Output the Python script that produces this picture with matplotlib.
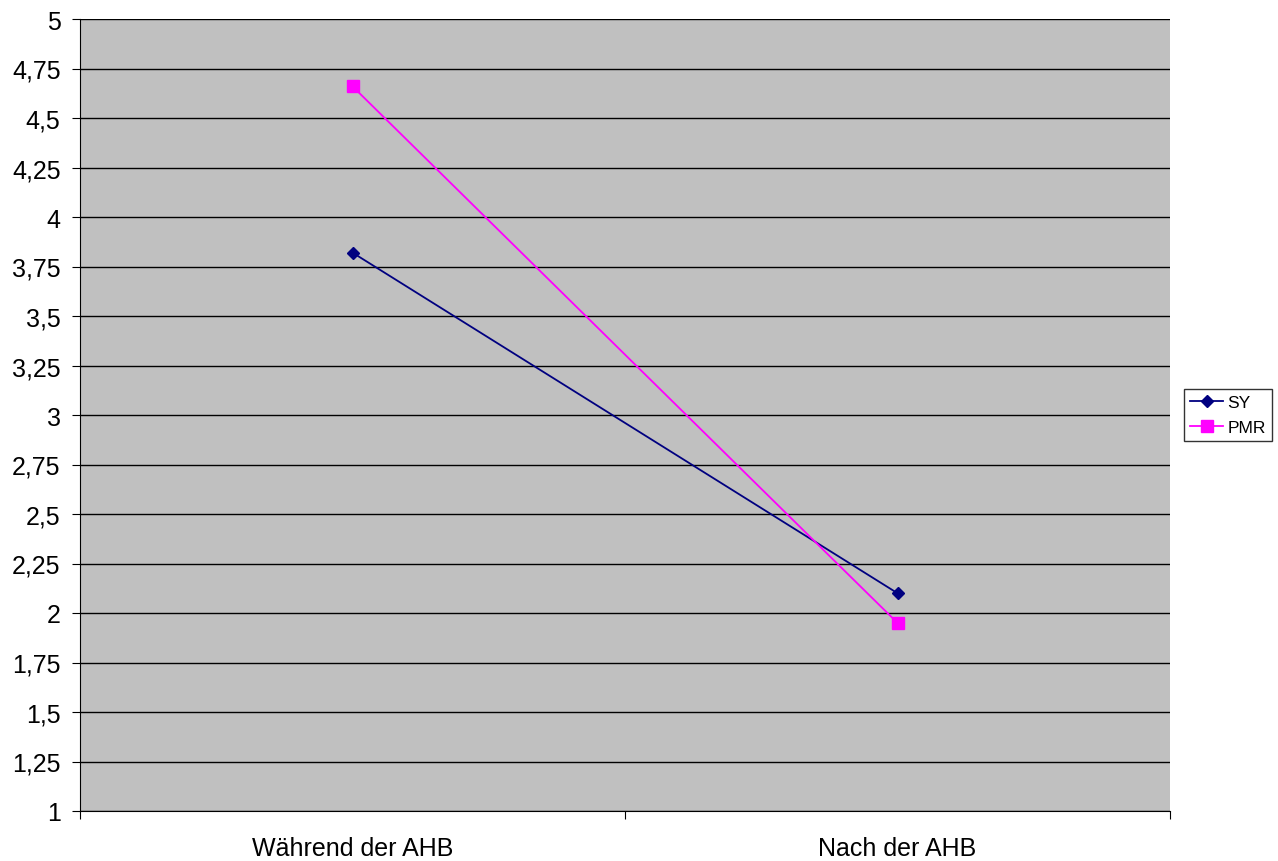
import matplotlib.pyplot as plt
from matplotlib.ticker import FixedLocator, FuncFormatter

plt.rcParams['font.family'] = ['Liberation Sans', 'DejaVu Sans']

categories = ["Während der AHB", "Nach der AHB"]
sy = [3.82, 2.10]
pmr = [4.66, 1.95]
yticks = [1, 1.25, 1.5, 1.75, 2, 2.25, 2.5, 2.75, 3, 3.25, 3.5, 3.75, 4, 4.25, 4.5, 4.75, 5]

fig = plt.figure(figsize=(12.78, 8.62), dpi=100)
ax = fig.add_axes([80 / 1278, 50 / 862, 1090 / 1278, 792 / 862])
ax.set_facecolor("#c0c0c0")

x = [0.5, 1.5]
ax.plot(x, sy, color="#000080", marker="D", markersize=6, lw=1.3, label="SY")
ax.plot(x, pmr, color="#ff00ff", marker="s", markersize=8, lw=1.3, label="PMR")

ax.set_xlim(0, 2)
ax.set_ylim(1, 5)
ax.yaxis.set_major_locator(FixedLocator(yticks))
ax.yaxis.set_major_formatter(FuncFormatter(lambda v, p: f"{v:g}".replace(".", ",")))
ax.grid(axis="y", color="black", lw=1)
ax.set_axisbelow(True)

# category labels sit between the division ticks
ax.xaxis.set_major_locator(FixedLocator([0, 1, 2]))
ax.xaxis.set_major_formatter(FuncFormatter(lambda v, p: ""))
ax.xaxis.set_minor_locator(FixedLocator(x))
ax.xaxis.set_minor_formatter(FuncFormatter(lambda v, p: categories[int(v)]))
ax.tick_params(axis="x", which="minor", length=0, pad=18, labelsize=18)
ax.tick_params(axis="x", which="major", length=6, color="black")
ax.tick_params(axis="y", length=6, labelsize=18, pad=8)

for s in ["top", "right"]:
    ax.spines[s].set_visible(False)
for s in ["left", "bottom"]:
    ax.spines[s].set_color("black")

leg = fig.legend(loc="center left", bbox_to_anchor=(1184 / 1278, 1 - 416 / 862),
                 fontsize=12.5, frameon=True, fancybox=False, edgecolor="black",
                 handlelength=1.9, handletextpad=0.25, borderpad=0.35,
                 labelspacing=0.6, borderaxespad=0)
leg.get_frame().set_linewidth(1)

fig.savefig("out.png", dpi=100, facecolor="white")
